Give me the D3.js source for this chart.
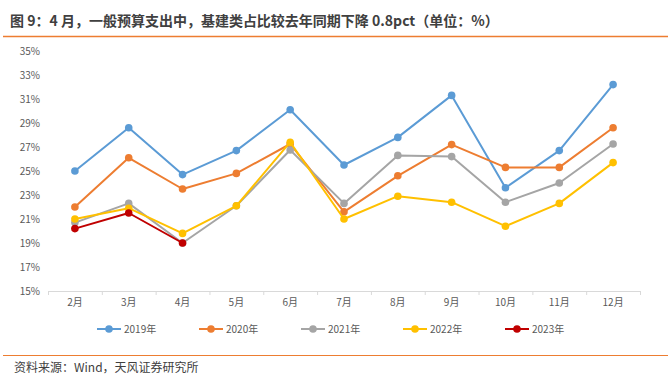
<!DOCTYPE html>
<html><head><meta charset="utf-8">
<script src="https://cdn.jsdelivr.net/npm/d3@7"></script>
<style>
html,body{margin:0;padding:0;background:#fff;}
svg{display:block;font-family:"Noto Sans CJK SC","Microsoft YaHei",sans-serif;}
</style></head>
<body>
<svg id="chart" width="671" height="392"></svg>
<script>
const months = ["2月","3月","4月","5月","6月","7月","8月","9月","10月","11月","12月"];
const yTicks = [15,17,19,21,23,25,27,29,31,33,35];
const seriesNames = ["2019年","2020年","2021年","2022年","2023年"];
const colors = ["#5B9BD5","#ED7D31","#A5A5A5","#FFC000","#C00000"];
const v2019 = [25.0,28.6,24.7,26.7,30.1,25.5,27.8,31.3,23.6,26.7,32.2];
const v2020 = [22.0,26.1,23.5,24.8,27.25,21.6,24.6,27.2,25.3,25.3,28.6];
const v2021 = [20.7,22.3,19.0,22.1,26.75,22.3,26.3,26.2,22.4,24.0,27.25];
const v2022 = [21.0,21.9,19.8,22.1,27.4,21.0,22.9,22.4,20.4,22.3,25.7];
const v2023 = [20.2,21.5,19.0];
const allValues = [v2019,v2020,v2021,v2022,v2023];

const svg = d3.select("#chart");
const title = "图 9：4 月，一般预算支出中，基建类占比较去年同期下降 0.8pct（单位：%）";
const source = "资料来源：Wind，天风证券研究所";

svg.append("text").attr("x",10).attr("y",26).attr("font-size",14).attr("font-weight","bold")
  .attr("fill","#404040").text(title);
svg.append("line").attr("x1",3).attr("x2",668).attr("y1",36.5).attr("y2",36.5)
  .attr("stroke","#ED7D31").attr("stroke-width",1.5);
svg.append("line").attr("x1",3).attr("x2",668).attr("y1",355.5).attr("y2",355.5)
  .attr("stroke","#ED7D31").attr("stroke-width",1.2);
svg.append("text").attr("x",14).attr("y",372).attr("font-size",12)
  .attr("fill","#404040").text(source);

const x = d3.scaleBand().domain(months).range([48,640]);
const y = d3.scaleLinear().domain([15,35]).range([291,51]);

// x axis
const xAxis = d3.axisBottom(x).tickSize(0).tickPadding(8);
const gx = svg.append("g").attr("transform","translate(0,291)").call(xAxis);
gx.select(".domain").attr("stroke","#D9D9D9");
gx.selectAll("text").attr("font-size",10).attr("fill","#595959").attr("font-family","Noto Sans CJK SC, sans-serif");
// band boundary ticks
const bounds = months.map(m=>x(m)).concat([x.range()[1]]);
gx.selectAll(".btick").data(bounds).enter().append("line")
  .attr("x1",d=>d+0.5).attr("x2",d=>d+0.5).attr("y1",0).attr("y2",4).attr("stroke","#D9D9D9");

// y axis
const yAxis = d3.axisLeft(y).tickValues(yTicks).tickSize(0).tickPadding(0).tickFormat(d=>d+"%");
const gy = svg.append("g").attr("transform","translate(40,0)").call(yAxis);
gy.select(".domain").remove();
gy.selectAll("text").attr("font-size",10).attr("fill","#595959").attr("font-family","Noto Sans CJK SC, sans-serif");

const cx = m => x(m)+x.bandwidth()/2;
const line = d3.line().x((d,i)=>cx(months[i])).y(d=>y(d));

allValues.forEach((vals,k)=>{
  const g = svg.append("g");
  g.append("path").datum(vals).attr("d",line).attr("fill","none")
    .attr("stroke",colors[k]).attr("stroke-width",2).attr("stroke-linejoin","round");
  g.selectAll("circle").data(vals).enter().append("circle")
    .attr("cx",(d,i)=>cx(months[i])).attr("cy",d=>y(d)).attr("r",3.8).attr("fill",colors[k]);
});

// legend
const lg = svg.append("g");
seriesNames.forEach((n,k)=>{
  const x0 = 97 + k*102;
  lg.append("line").attr("x1",x0).attr("x2",x0+24).attr("y1",329).attr("y2",329)
    .attr("stroke",colors[k]).attr("stroke-width",2);
  lg.append("circle").attr("cx",x0+12).attr("cy",329).attr("r",3.8).attr("fill",colors[k]);
  lg.append("text").attr("x",x0+27).attr("y",333).attr("font-size",10).attr("fill","#595959").text(n);
});
</script>
</body></html>
